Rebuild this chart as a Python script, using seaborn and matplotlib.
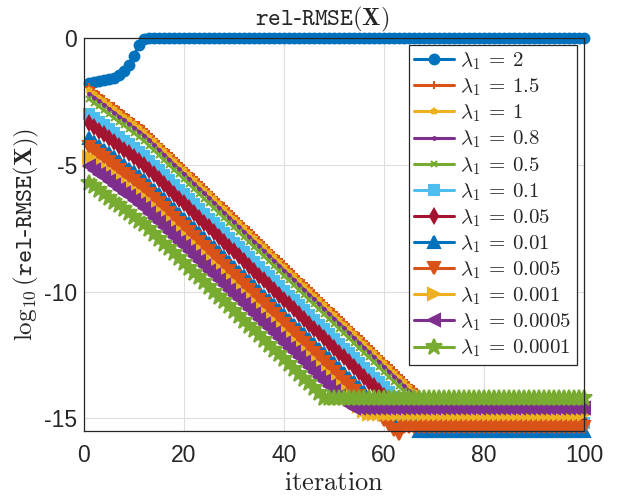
import matplotlib
matplotlib.use("Agg")
import matplotlib.pyplot as plt
import seaborn as sns

# --- data (log10 rel-RMSE per iteration) ---
iteration = list(range(1, 101))

lambda_labels = ['2', '1.5', '1', '0.8', '0.5', '0.1', '0.05', '0.01',
                 '0.005', '0.001', '0.0005', '0.0001']

err_2 = [-1.78, -1.75, -1.71, -1.67, -1.62, -1.56, -1.47, -1.32, -1.08, -0.70,
         -0.27, -0.02] + [0.0] * 88

err_1_5 = [-1.95, -2.10, -2.25, -2.40, -2.55, -2.70, -2.85, -3.00, -3.15, -3.30,
           -3.45, -3.60, -3.79, -3.98, -4.17, -4.36, -4.55, -4.74, -4.93, -5.12,
           -5.31, -5.50, -5.69, -5.88, -6.07, -6.26, -6.45, -6.64, -6.83, -7.02,
           -7.21, -7.40, -7.59, -7.78, -7.97, -8.16, -8.35, -8.54, -8.73, -8.92,
           -9.11, -9.30, -9.49, -9.68, -9.87, -10.06, -10.25, -10.44, -10.63, -10.82,
           -11.01, -11.20, -11.39, -11.58, -11.77, -11.96, -12.15, -12.34, -12.53, -12.72,
           -12.91, -13.10, -13.29, -13.48, -13.67, -13.86, -14.05, -14.24, -14.43, -14.62,
           -14.81] + [-15.0] * 29

err_1 = [-2.05, -2.20, -2.35, -2.50, -2.65, -2.80, -2.95, -3.10, -3.25, -3.40,
         -3.55, -3.70, -3.89, -4.08, -4.27, -4.46, -4.65, -4.84, -5.03, -5.22,
         -5.41, -5.60, -5.79, -5.98, -6.17, -6.36, -6.55, -6.74, -6.93, -7.12,
         -7.31, -7.50, -7.69, -7.88, -8.07, -8.26, -8.45, -8.64, -8.83, -9.02,
         -9.21, -9.40, -9.59, -9.78, -9.97, -10.16, -10.35, -10.54, -10.73, -10.92,
         -11.11, -11.30, -11.49, -11.68, -11.87, -12.06, -12.25, -12.44, -12.63, -12.82,
         -13.01, -13.20, -13.39, -13.58, -13.77, -13.96, -14.15, -14.34, -14.53, -14.72] + [-14.9] * 30

err_0_8 = [-2.20, -2.35, -2.50, -2.65, -2.80, -2.95, -3.10, -3.25, -3.40, -3.55,
           -3.70, -3.85, -4.04, -4.23, -4.42, -4.61, -4.80, -4.99, -5.18, -5.37,
           -5.56, -5.75, -5.94, -6.13, -6.32, -6.51, -6.70, -6.89, -7.08, -7.27,
           -7.46, -7.65, -7.84, -8.03, -8.22, -8.41, -8.60, -8.79, -8.98, -9.17,
           -9.36, -9.55, -9.74, -9.93, -10.12, -10.31, -10.50, -10.69, -10.88, -11.07,
           -11.26, -11.45, -11.64, -11.83, -12.02, -12.21, -12.40, -12.59, -12.78, -12.97,
           -13.16, -13.35, -13.54, -13.73, -13.92, -14.11, -14.30, -14.49, -14.68, -14.87,
           -15.06] + [-15.1] * 29

err_0_5 = [-2.40, -2.55, -2.70, -2.85, -3.00, -3.15, -3.30, -3.45, -3.60, -3.75,
           -3.90, -4.05, -4.24, -4.43, -4.62, -4.81, -5.00, -5.19, -5.38, -5.57,
           -5.76, -5.95, -6.14, -6.33, -6.52, -6.71, -6.90, -7.09, -7.28, -7.47,
           -7.66, -7.85, -8.04, -8.23, -8.42, -8.61, -8.80, -8.99, -9.18, -9.37,
           -9.56, -9.75, -9.94, -10.13, -10.32, -10.51, -10.70, -10.89, -11.08, -11.27,
           -11.46, -11.65, -11.84, -12.03, -12.22, -12.41, -12.60, -12.79, -12.98, -13.17,
           -13.36, -13.55, -13.74, -13.93, -14.12, -14.31, -14.50, -14.69, -14.88, -15.07] + [-15.2] * 30

err_0_1 = [-3.00, -3.15, -3.30, -3.45, -3.60, -3.75, -3.90, -4.05, -4.20, -4.35,
           -4.50, -4.65, -4.84, -5.03, -5.22, -5.41, -5.60, -5.79, -5.98, -6.17,
           -6.36, -6.55, -6.74, -6.93, -7.12, -7.31, -7.50, -7.69, -7.88, -8.07,
           -8.26, -8.45, -8.64, -8.83, -9.02, -9.21, -9.40, -9.59, -9.78, -9.97,
           -10.16, -10.35, -10.54, -10.73, -10.92, -11.11, -11.30, -11.49, -11.68, -11.87,
           -12.06, -12.25, -12.44, -12.63, -12.82, -13.01, -13.20, -13.39, -13.58, -13.77,
           -13.96, -14.15, -14.34, -14.53, -14.72, -14.91, -15.10] + [-15.2] * 33

err_0_05 = [-3.35, -3.50, -3.65, -3.80, -3.95, -4.10, -4.25, -4.40, -4.55, -4.70,
            -4.85, -5.00, -5.19, -5.38, -5.57, -5.76, -5.95, -6.14, -6.33, -6.52,
            -6.71, -6.90, -7.09, -7.28, -7.47, -7.66, -7.85, -8.04, -8.23, -8.42,
            -8.61, -8.80, -8.99, -9.18, -9.37, -9.56, -9.75, -9.94, -10.13, -10.32,
            -10.51, -10.70, -10.89, -11.08, -11.27, -11.46, -11.65, -11.84, -12.03, -12.22,
            -12.41, -12.60, -12.79, -12.98, -13.17, -13.36, -13.55, -13.74, -13.93, -14.12,
            -14.31, -14.50, -14.69, -14.88, -15.07] + [-15.17] * 35

err_0_01 = [-3.95, -4.10, -4.25, -4.40, -4.55, -4.70, -4.85, -5.00, -5.15, -5.30,
            -5.45, -5.60, -5.79, -5.98, -6.17, -6.36, -6.55, -6.74, -6.93, -7.12,
            -7.31, -7.50, -7.69, -7.88, -8.07, -8.26, -8.45, -8.64, -8.83, -9.02,
            -9.21, -9.40, -9.59, -9.78, -9.97, -10.16, -10.35, -10.54, -10.73, -10.92,
            -11.11, -11.30, -11.49, -11.68, -11.87, -12.06, -12.25, -12.44, -12.63, -12.82,
            -13.01, -13.20, -13.39, -13.58, -13.77, -13.96, -14.15, -14.34, -14.53, -14.72,
            -14.91, -15.05, -15.05, -15.05, -15.05, -15.05] + [-15.5] * 34

err_0_005 = [-4.30, -4.45, -4.60, -4.75, -4.90, -5.05, -5.20, -5.35, -5.50, -5.65,
             -5.80, -5.95, -6.14, -6.33, -6.52, -6.71, -6.90, -7.09, -7.28, -7.47,
             -7.66, -7.85, -8.04, -8.23, -8.42, -8.61, -8.80, -8.99, -9.18, -9.37,
             -9.56, -9.75, -9.94, -10.13, -10.32, -10.51, -10.70, -10.89, -11.08, -11.27,
             -11.46, -11.65, -11.84, -12.03, -12.22, -12.41, -12.60, -12.79, -12.98, -13.17,
             -13.36, -13.55, -13.74, -13.93, -14.12, -14.31, -14.50, -14.69, -14.88, -15.07,
             -15.26, -15.45, -15.60] + [-15.35] * 37

err_0_001 = [-4.70, -4.85, -5.00, -5.15, -5.30, -5.45, -5.60, -5.75, -5.90, -6.05,
             -6.20, -6.35, -6.54, -6.73, -6.92, -7.11, -7.30, -7.49, -7.68, -7.87,
             -8.06, -8.25, -8.44, -8.63, -8.82, -9.01, -9.20, -9.39, -9.58, -9.77,
             -9.96, -10.15, -10.34, -10.53, -10.72, -10.91, -11.10, -11.29, -11.48, -11.67,
             -11.86, -12.05, -12.24, -12.43, -12.62, -12.81, -13.00, -13.19, -13.38, -13.57,
             -13.76, -13.95, -14.14, -14.33, -14.52, -14.71] + [-14.83] * 44

err_0_0005 = [-5.05, -5.20, -5.35, -5.50, -5.65, -5.80, -5.95, -6.10, -6.25, -6.40,
              -6.55, -6.70, -6.89, -7.08, -7.27, -7.46, -7.65, -7.84, -8.03, -8.22,
              -8.41, -8.60, -8.79, -8.98, -9.17, -9.36, -9.55, -9.74, -9.93, -10.12,
              -10.31, -10.50, -10.69, -10.88, -11.07, -11.26, -11.45, -11.64, -11.83, -12.02,
              -12.21, -12.40, -12.59, -12.78, -12.97, -13.16, -13.35, -13.54, -13.73, -13.92,
              -14.11, -14.30, -14.49] + [-14.58] * 47

err_0_0001 = [-5.70, -5.85, -6.00, -6.15, -6.30, -6.45, -6.60, -6.75, -6.90, -7.05,
              -7.20, -7.35, -7.54, -7.73, -7.92, -8.11, -8.30, -8.49, -8.68, -8.87,
              -9.06, -9.25, -9.44, -9.63, -9.82, -10.01, -10.20, -10.39, -10.58, -10.77,
              -10.96, -11.15, -11.34, -11.53, -11.72, -11.91, -12.10, -12.29, -12.48, -12.67,
              -12.86, -13.05, -13.24, -13.43, -13.62, -13.81, -14.00] + [-14.2] * 53

all_errors = [err_2, err_1_5, err_1, err_0_8, err_0_5, err_0_1, err_0_05,
              err_0_01, err_0_005, err_0_001, err_0_0005, err_0_0001]

# MATLAB default colour order and the marker list used in the original figure
colors = ['#0072BD', '#D95319', '#EDB120', '#7E2F8E', '#77AC30', '#4DBEEE', '#A2142F',
          '#0072BD', '#D95319', '#EDB120', '#7E2F8E', '#77AC30']
markers = ['o', '+', '*', '.', 'x', 's', 'd', '^', 'v', '>', '<', '*']
msizes = [7, 6, 5, 4, 5, 7, 7, 8, 8, 8, 8, 12]

# --- style ---
sns.set_style("white")
plt.rcParams['mathtext.fontset'] = 'cm'
plt.rcParams['axes.unicode_minus'] = False
plt.rcParams['font.family'] = ['Liberation Sans', 'DejaVu Sans']

fig = plt.figure(figsize=(6.44, 5.04), dpi=100)
ax = fig.add_axes([0.1304, 0.1448, 0.7764, 0.7798])

for lab, vals, c, m, ms in zip(lambda_labels, all_errors, colors, markers, msizes):
    sns.lineplot(x=iteration, y=vals, ax=ax, color=c, marker=m, markersize=ms,
                 markerfacecolor=c, markeredgecolor=c, markeredgewidth=1.5,
                 linewidth=2.2, label=r'$\lambda_1\:=\:' + lab + '$', clip_on=False)

ax.set_xlim(0, 100)
ax.set_ylim(-15.5, 0)
ax.set_xticks([0, 20, 40, 60, 80, 100])
ax.set_yticks([-15, -10, -5, 0])
ax.grid(True, color='#DEDEDE', linewidth=0.8)
ax.set_axisbelow(True)
for sp in ax.spines.values():
    sp.set_color('#262626')
    sp.set_linewidth(0.9)
ax.tick_params(direction='in', length=3, width=0.8, labelsize=16.5, colors='#262626',
               top=False, right=False)
ax.tick_params(axis='x', pad=9)
ax.tick_params(axis='y', pad=5)

ax.set_title(r'$\mathtt{rel\text{-}RMSE}(\mathbf{X})$', fontsize=17.5, pad=9, x=0.477)
ax.set_xlabel(r'$\mathrm{iteration}$', fontsize=19, labelpad=3)
ax.set_ylabel(r'$\log_{10}(\mathtt{rel\text{-}RMSE}(\mathbf{X}))$', fontsize=18, labelpad=2)

leg = ax.legend(loc='upper right', fontsize=15, frameon=True, fancybox=False,
                framealpha=1, edgecolor='#262626', handlelength=1.9,
                labelspacing=0.22, borderpad=0.25, handletextpad=0.3,
                borderaxespad=0.35)
leg.get_frame().set_linewidth(0.9)

fig.savefig('out.png', dpi=100)
